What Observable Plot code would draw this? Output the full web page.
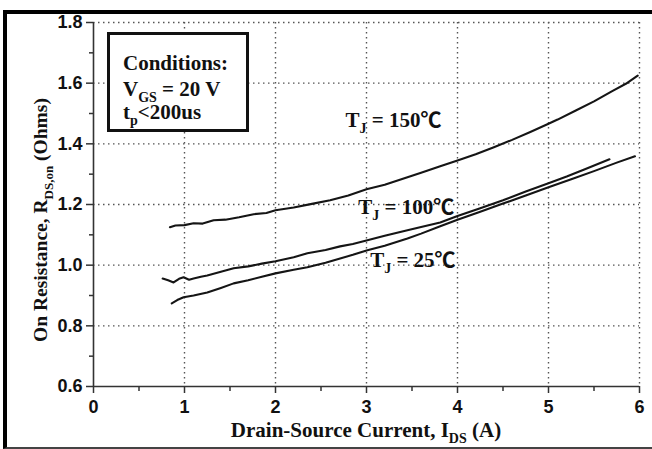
<!DOCTYPE html>
<html><head><meta charset="utf-8">
<script src="https://cdn.jsdelivr.net/npm/d3@7"></script>
<script src="https://cdn.jsdelivr.net/npm/@observablehq/plot@0.6"></script>
<style>
html,body{margin:0;padding:0;background:#fff;overflow:hidden}
#wrap{position:relative;width:652px;height:449px}
#frame{position:absolute;left:3px;top:10px;width:700px;height:433px;border-top:4px solid #000;border-left:4px solid #000;border-bottom:2px solid #444;pointer-events:none}
</style></head><body><div id="wrap"><div id="frame"></div></div>
<script>
// ---- axis ticks ----
const xTicks = [0, 1, 2, 3, 4, 5, 6];
const xMinor = [0.5, 1.5, 2.5, 3.5, 4.5, 5.5];
const xGrid = [1, 2, 3, 4, 5, 6];
const yTicks = [0.6, 0.8, 1.0, 1.2, 1.4, 1.6, 1.8];
const yMinor = [0.7, 0.9, 1.1, 1.3, 1.5, 1.7];
const yGrid = [0.8, 1.0, 1.2, 1.4, 1.6, 1.8];

// ---- series: Tj = 150 C ----
const ids150 = [0.84, 0.9, 1.0, 1.1, 1.2, 1.32, 1.45, 1.6, 1.76, 1.9, 2.0, 2.2, 2.4, 2.6, 2.8, 3.0, 3.2, 3.45, 3.6, 3.81, 4.0, 4.2, 4.4, 4.6, 4.8, 5.0, 5.1, 5.3, 5.5, 5.7, 5.85, 5.98];
const ron150 = [1.125, 1.131, 1.132, 1.138, 1.137, 1.148, 1.150, 1.158, 1.168, 1.172, 1.181, 1.190, 1.202, 1.214, 1.230, 1.250, 1.265, 1.290, 1.305, 1.326, 1.345, 1.366, 1.389, 1.413, 1.439, 1.466, 1.480, 1.510, 1.540, 1.574, 1.598, 1.625];

// ---- series: Tj = 100 C ----
const ids100 = [0.76, 0.82, 0.88, 0.94, 0.99, 1.05, 1.1, 1.18, 1.25, 1.4, 1.54, 1.7, 1.85, 2.0, 2.2, 2.35, 2.55, 2.71, 2.85, 3.01, 3.2, 3.45, 3.6, 3.81, 4.0, 4.25, 4.5, 4.75, 5.0, 5.2, 5.4, 5.67];
const ron100 = [0.956, 0.950, 0.943, 0.955, 0.960, 0.952, 0.956, 0.962, 0.966, 0.978, 0.990, 0.996, 1.005, 1.013, 1.026, 1.039, 1.050, 1.062, 1.070, 1.082, 1.097, 1.115, 1.126, 1.141, 1.162, 1.188, 1.214, 1.243, 1.270, 1.292, 1.316, 1.349];

// ---- series: Tj = 25 C ----
const ids25 = [0.86, 0.92, 0.99, 1.1, 1.25, 1.4, 1.54, 1.7, 1.85, 2.0, 2.2, 2.35, 2.55, 2.71, 2.85, 3.01, 3.2, 3.45, 3.6, 3.81, 4.0, 4.25, 4.5, 4.75, 5.0, 5.25, 5.5, 5.75, 5.95];
const ron25 = [0.874, 0.885, 0.894, 0.900, 0.910, 0.925, 0.940, 0.950, 0.962, 0.973, 0.985, 0.993, 1.008, 1.022, 1.034, 1.049, 1.064, 1.088, 1.104, 1.128, 1.150, 1.176, 1.203, 1.230, 1.257, 1.283, 1.310, 1.338, 1.359];

// ---- curve labels ----
const labelText = ["T_{J} = 150\u2103", "T_{J} = 100\u2103", "T_{J} = 25\u2103"];
const labelX = [2.77, 2.91, 3.04];
const labelY = [1.478, 1.191, 1.016];

// ---- titles ----
const xTitle = "Drain-Source Current, I_{DS} (A)";
const yTitle = "On Resistance, R_{DS,on} (Ohms)";
const conditions = ["Conditions:", "V_{GS} = 20 V", "t_{p}<200us"];

const series = [
  {name: "150", xs: ids150, ys: ron150},
  {name: "100", xs: ids100, ys: ron100},
  {name: "25", xs: ids25, ys: ron25}
];
const rows = series.flatMap(s => s.xs.map((x, i) => ({series: s.name, x, y: s.ys[i]})));
const labels = labelText.map((t, i) => ({text: t, x: labelX[i], y: labelY[i]}));

const serif = "'Liberation Serif', 'Times New Roman', 'Noto Sans CJK SC', serif";
const gridStyle = {stroke: "#555", strokeOpacity: 1, strokeDasharray: "1.5,3.5", strokeWidth: 1.4};

const plot = Plot.plot({
  width: 652, height: 449,
  marginLeft: 93, marginRight: 13, marginTop: 22, marginBottom: 63,
  style: {background: "transparent", color: "#111", fontFamily: "'Liberation Sans', Arial, sans-serif", fontSize: "18px", fontWeight: "bold", overflow: "visible"},
  x: {domain: [0, 6], label: null},
  y: {domain: [0.6, 1.8], label: null},
  marks: [
    Plot.gridX(xGrid, gridStyle),
    Plot.gridY(yGrid, gridStyle),
    Plot.axisX(xMinor, {tickSize: 5, tickFormat: () => "", label: null, strokeWidth: 1.5, stroke: "#333"}),
    Plot.axisX(xTicks, {tickSize: 7, tickPadding: 7, label: null, strokeWidth: 1.5, stroke: "#333"}),
    Plot.axisY(yMinor, {tickSize: 4, tickFormat: () => "", label: null, strokeWidth: 1.5, stroke: "#333"}),
    Plot.axisY(yTicks, {tickSize: 7, tickPadding: 4, tickFormat: d => d.toFixed(1), label: null, strokeWidth: 1.5, stroke: "#333"}),
    Plot.ruleX([0], {stroke: "#333", strokeWidth: 1.6}),
    Plot.ruleY([0.6], {stroke: "#333", strokeWidth: 1.6}),
    Plot.line(rows, {x: "x", y: "y", z: "series", stroke: "#151515", strokeWidth: 2.1, curve: "linear"}),
    Plot.text(labels, {x: "x", y: "y", text: "text", textAnchor: "start", fontFamily: serif, fontSize: 21, fontWeight: "bold", fill: "#111"})
  ]
});

const wrap = document.getElementById("wrap");
wrap.insertBefore(plot, document.getElementById("frame"));

function setRich(sel, str, fs) {
  sel.text(null).style("white-space", "pre");
  const parts = str.split(/(_\{[^}]*\})/);
  let shifted = false;
  for (const p of parts) {
    if (!p) continue;
    if (p.startsWith("_{")) {
      sel.append("tspan").attr("font-size", Math.round(fs * 0.66)).attr("dy", fs * 0.3).text(p.slice(2, -1));
      shifted = true;
    } else {
      const t = sel.append("tspan").text(p);
      if (shifted) { t.attr("dy", -fs * 0.3); shifted = false; }
    }
  }
}

const svg = d3.select(plot);
svg.selectAll("text").each(function() {
  const s = this.textContent;
  if (s.includes("_{")) setRich(d3.select(this), s, 21);
});

const sx = plot.scale("x"), sy = plot.scale("y");
const xMid = (sx.apply(0) + sx.apply(6)) / 2;
const yMid = (sy.apply(0.6) + sy.apply(1.8)) / 2;

const titles = svg.append("g").attr("font-family", serif).attr("font-weight", "bold").attr("fill", "#111").attr("text-anchor", "middle");
setRich(titles.append("text").attr("x", xMid).attr("y", 437).attr("font-size", 21), xTitle, 21);
setRich(titles.append("text").attr("transform", `translate(47,${yMid + 16}) rotate(-90)`).attr("font-size", 19.5), yTitle, 19.5);

const box = svg.append("g").attr("font-family", serif).attr("font-weight", "bold").attr("fill", "#111").attr("text-anchor", "start");
box.append("rect").attr("x", 108.5).attr("y", 33.5).attr("width", 139).attr("height", 97).attr("fill", "#fff").attr("stroke", "#111").attr("stroke-width", 3);
const lineY = [70, 96, 119];
conditions.forEach((c, i) => {
  setRich(box.append("text").attr("x", 123).attr("y", lineY[i]).attr("font-size", 21), c, 21);
});
</script></body></html>
